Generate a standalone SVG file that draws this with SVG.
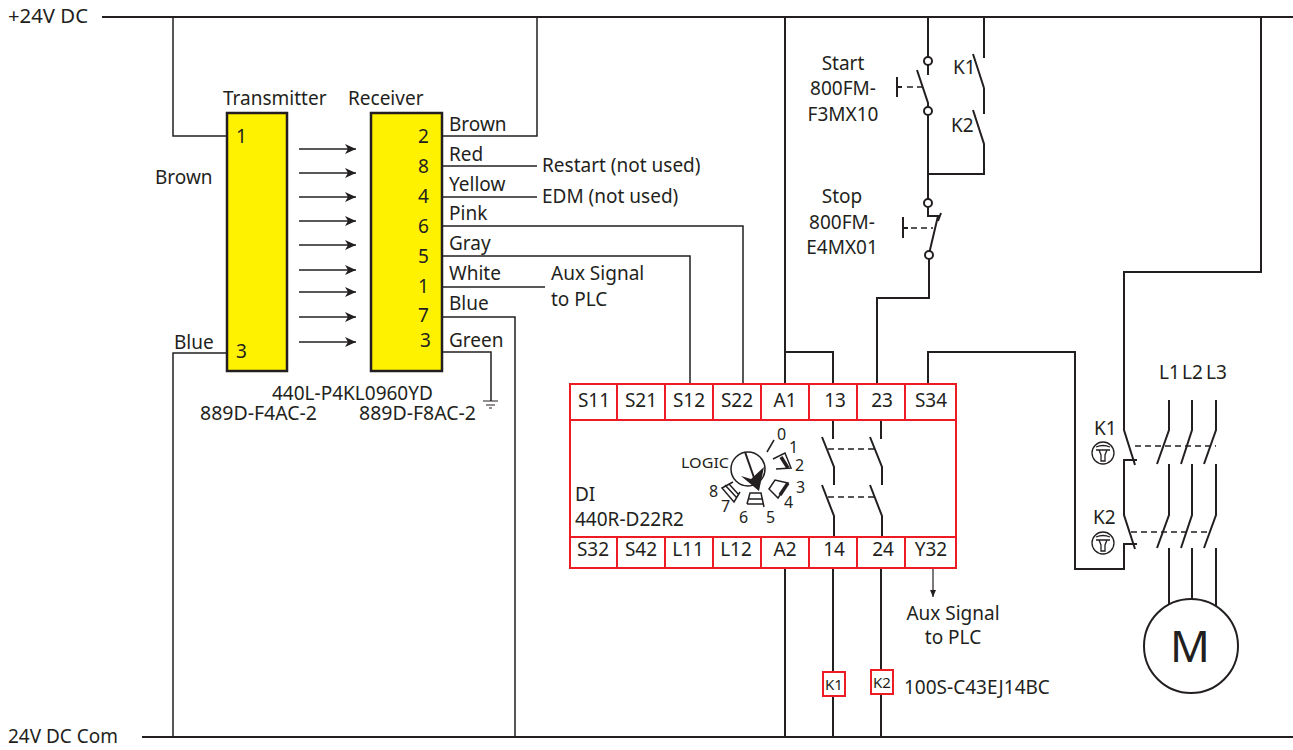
<svg xmlns="http://www.w3.org/2000/svg" width="1293" height="750" viewBox="0 0 1293 750">
<style>
text{font-family:"Noto Sans","Open Sans","Liberation Sans",sans-serif;font-size:19px;fill:#231f20}
.s{font-size:16px}
.n{font-size:15px}
.m{text-anchor:middle}
.w{fill:none;stroke:#231f20;stroke-width:2}
.t{fill:none;stroke:#231f20;stroke-width:1.5}
.h{fill:none;stroke:#231f20;stroke-width:1.2}
.b{fill:none;stroke:#231f20;stroke-width:3.5}
.d{fill:none;stroke:#231f20;stroke-width:1.6;stroke-dasharray:6 4}
.y{fill:#fff200;stroke:#231f20;stroke-width:2.5}
.r{fill:none;stroke:#ed1c24;stroke-width:2}
.c{fill:#fff;stroke:#231f20;stroke-width:2}
</style>
<defs>
<marker id="a" markerUnits="userSpaceOnUse" markerWidth="12" markerHeight="12" refX="11" refY="6" orient="auto"><path d="M0 1L11 6L0 11L3 6Z" fill="#231f20"/></marker>
<marker id="sm" markerUnits="userSpaceOnUse" markerWidth="8" markerHeight="8" refX="7" refY="4" orient="auto"><path d="M0 1L7 4L0 7Z" fill="#231f20"/></marker>
<g id="coil"><circle r="11" fill="none" stroke="#231f20" stroke-width="1.3"/><path d="M-7-3H7M-4-3L-2 2V8H2V2L4-3M-7-6Q0-9 7-6" fill="none" stroke="#231f20" stroke-width="1.3"/></g>
</defs>
<g id="connectors">
<path class="w" d="M102 17H1293"/>
<path class="w" d="M142 737H1293"/>
<path class="t" d="M173 17V136H228"/>
<path class="t" d="M173 737V353H228"/>
<path class="t" d="M443 136H537V17"/>
<path class="t" d="M443 166H537"/>
<path class="t" d="M443 197H537"/>
<path class="t" d="M443 226H743V384"/>
<path class="t" d="M443 256H690V384"/>
<path class="t" d="M443 287H545"/>
<path class="t" d="M443 317H515V737"/>
<path class="t" d="M443 352H491V401"/>
<path class="h" d="M483 401H498M486 405H495M489 408H492"/>
<g class="t">
<path marker-end="url(#a)" d="M299 149H356"/><path marker-end="url(#a)" d="M299 173H356"/><path marker-end="url(#a)" d="M299 197H356"/><path marker-end="url(#a)" d="M299 221H356"/><path marker-end="url(#a)" d="M299 245H356"/><path marker-end="url(#a)" d="M299 270H356"/><path marker-end="url(#a)" d="M299 292H356"/><path marker-end="url(#a)" d="M299 317H356"/><path marker-end="url(#a)" d="M299 342H356"/>
</g>
<path class="w" d="M785 17V384"/>
<path class="w" d="M785 352H833V384"/>
<path class="w" d="M928 17V57M928 65V75"/>
<path class="w" d="M917 70L928 103V107M928 115V205M928 174H984V144L973 110"/>
<path class="w" d="M984 17V58M984 88V114M984 88L973 54"/>
<path class="w" d="M928 204V209M928 209V216H938L929 254M941 213L938 221"/>
<path class="w" d="M897 77V97M897 87H902"/>
<path class="d" d="M907 87H922"/>
<path class="w" d="M903 217V238M903 228H908"/>
<path class="d" d="M911 228H933"/>
<path class="w" d="M929 259V298H877V384"/>
<path class="w" d="M928 384V352H1075V569H1124V544H1137"/>
<path class="w" d="M1261 17V272H1124V430L1135 465M1137 460H1124V515L1135 549"/>
<path class="w" d="M1169 400V430L1157 464M1192 400V430L1181 464M1216 400V430L1204 464"/>
<path class="w" d="M1169 464V515L1157 548M1192 464V515L1181 548M1216 464V515L1204 548"/>
<path class="w" d="M1169 548V610M1192 548V610M1216 548V610"/>
<path class="d" d="M1135 446H1216M1131 532H1208"/>
<path class="w" d="M833 420V439M881 420V439"/>
<path class="w" d="M822 437L834 467V485M870 437L882 467V485"/>
<path class="w" d="M822 485L834 516V537M870 485L882 516V537"/>
<path class="d" d="M828 449H874M828 497H874"/>
<path class="w" d="M785 568V737"/>
<path class="w" d="M833 568V672M833 697V737"/>
<path class="w" d="M881 568V670M881 695V737"/>
<path class="h" marker-end="url(#sm)" d="M933 568V597"/>
</g>
<g id="transmitter"><rect class="y" x="227" y="113" width="60" height="258"/><text x="236" y="143">1</text><text x="236" y="358">3</text></g>
<g id="receiver"><rect class="y" x="371" y="113" width="71" height="258"/>
<text x="418" y="143">2</text><text x="418" y="173">8</text><text x="418" y="203">4</text><text x="418" y="233">6</text><text x="418" y="263">5</text><text x="418" y="293">1</text><text x="418" y="322">7</text><text x="420" y="347">3</text></g>
<g id="relay">
<rect class="r" x="570" y="384" width="386" height="184"/>
<path class="r" d="M570 420H956M570 537H956M617 384V420M665 384V420M713 384V420M761 384V420M809 384V420M857 384V420M905 384V420M617 537V568M665 537V568M713 537V568M761 537V568M809 537V568M857 537V568M905 537V568"/>
<g class="m"><text x="594" y="407">S11</text><text x="641" y="407">S21</text><text x="689" y="407">S12</text><text x="737" y="407">S22</text><text x="785" y="407">A1</text><text x="835" y="407">13</text><text x="882" y="407">23</text><text x="931" y="407">S34</text>
<text x="593" y="556">S32</text><text x="641" y="556">S42</text><text x="688" y="556">L11</text><text x="736" y="556">L12</text><text x="785" y="556">A2</text><text x="834" y="556">14</text><text x="883" y="556">24</text><text x="931" y="556">Y32</text></g>
<text x="575" y="501">DI</text><text x="575" y="526">440R-D22R2</text>
<text x="681" y="468" class="n" textLength="48" lengthAdjust="spacingAndGlyphs">LOGIC</text>
<circle cx="748" cy="469" r="17" fill="#fff" stroke="#231f20" stroke-width="1.5"/>
<path class="w" d="M745 452L758 489"/><path d="M741 476L751 479L764 467L759 491Z" fill="#231f20"/>
<path class="t" d="M767 452L774 440"/>
<path class="t" d="M773 459L785 453L791 468L776 469"/><path class="b" d="M781 457L788 468"/>
<path class="t" d="M769 489L775 480L788 483L778 498Z"/><path class="b" d="M780 495L788 483"/>
<path class="t" d="M747 504L750 493H761L764 507M749 499H762M747 504H764"/>
<path class="t" d="M733 482L722 488L734 502L740 492M725 485L737 498M729 484L739 495"/>
<text class="s" x="777" y="440">0</text><text class="s" x="789" y="453">1</text><text class="s" x="795" y="471">2</text><text class="s" x="796" y="493">3</text><text class="s" x="784" y="508">4</text><text class="s" x="766" y="523">5</text><text class="s" x="739" y="523">6</text><text class="s" x="721" y="512">7</text><text class="s" x="709" y="497">8</text>
</g>
<g id="K1coil"><rect class="r" x="823" y="672" width="22" height="24"/><text class="n m" x="834" y="690">K1</text></g>
<g id="K2coil"><rect class="r" x="871" y="670" width="22" height="24"/><text class="n m" x="882" y="688">K2</text></g>
<g id="motor"><circle cx="1191" cy="646" r="47" fill="#fff" stroke="#231f20" stroke-width="2"/><text class="m" x="1190" y="662" style="font-size:44px">M</text></g>
<circle class="c" cx="928" cy="61" r="4"/><circle class="c" cx="928" cy="111" r="4"/><circle class="c" cx="928" cy="203" r="4"/><circle class="c" cx="929" cy="255" r="4"/>
<use href="#coil" x="1103" y="453"/><use href="#coil" x="1103" y="543"/>
<g id="labels">
<text x="8" y="23" textLength="80" lengthAdjust="spacingAndGlyphs">+24V DC</text><text x="8" y="743" textLength="110" lengthAdjust="spacingAndGlyphs">24V DC Com</text>
<text x="223" y="105">Transmitter</text><text x="348" y="105">Receiver</text><text x="155" y="184">Brown</text><text x="174" y="349">Blue</text>
<text x="449" y="131">Brown</text><text x="449" y="161">Red</text><text x="449" y="191">Yellow</text><text x="449" y="220">Pink</text><text x="449" y="250">Gray</text><text x="449" y="280">White</text><text x="449" y="310">Blue</text><text x="449" y="347">Green</text>
<text x="542" y="172">Restart (not used)</text><text x="542" y="203">EDM (not used)</text>
<text x="551" y="280">Aux Signal</text><text x="551" y="306">to PLC</text>
<text x="272" y="400">440L-P4KL0960YD</text><text x="200" y="420" textLength="117" lengthAdjust="spacingAndGlyphs">889D-F4AC-2</text><text x="359" y="420" textLength="117" lengthAdjust="spacingAndGlyphs">889D-F8AC-2</text>
<g class="m"><text x="843" y="70">Start</text><text x="843" y="95">800FM-</text><text x="843" y="121">F3MX10</text><text x="842" y="203">Stop</text><text x="842" y="229">800FM-</text><text x="842" y="254">E4MX01</text>
<text x="953" y="620">Aux Signal</text><text x="953" y="644">to PLC</text></g>
<text x="953" y="74">K1</text><text x="951" y="132">K2</text>
<text x="1094" y="435">K1</text><text x="1093" y="524">K2</text>
<text x="1159" y="379">L1</text><text x="1182" y="379">L2</text><text x="1206" y="379">L3</text>
<text x="904" y="694">100S-C43EJ14BC</text>
</g>
</svg>
